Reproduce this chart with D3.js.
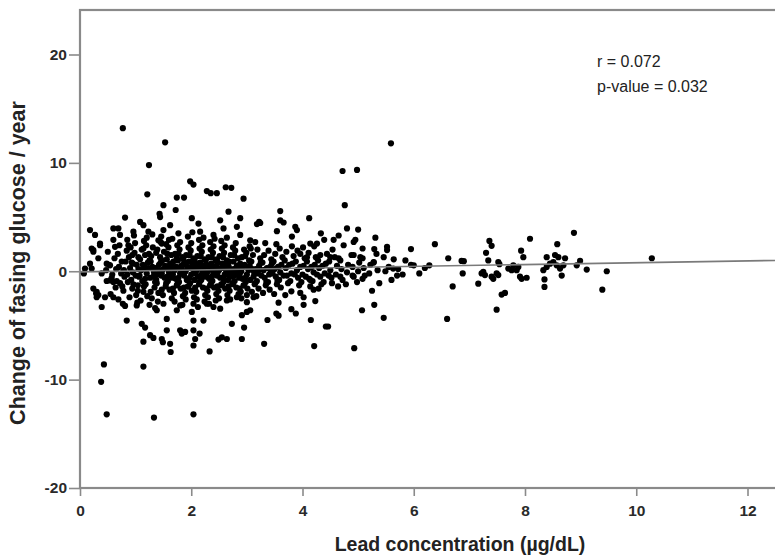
<!DOCTYPE html>
<html><head><meta charset="utf-8">
<script src="https://cdn.jsdelivr.net/npm/d3@7"></script>
<style>body{margin:0;background:#fff}svg{display:block}</style>
</head><body>
<svg id="chart" width="775" height="557"></svg>
<script>
const xTicks = [0, 2, 4, 6, 8, 10, 12];
const yTicks = [-20, -10, 0, 10, 20];
const xTitle = "Lead concentration (µg/dL)";
const yTitle = "Change of fasing glucose / year";
const statLines = ["r = 0.072", "p-value = 0.032"];
const fitLine = [[0, -0.06], [13.7, 1.1]];

const sparsePoints = [
[0.77,13.2],[1.53,11.9],[1.24,9.8],[5.59,11.8],[4.98,9.35],[4.72,9.25],[4.76,6.1],
[1.98,8.3],[2.04,8.0],[2.28,7.4],[2.35,7.2],[2.46,7.2],[2.62,7.75],[2.72,7.7],[2.94,6.7],[1.21,7.1],[1.74,6.8],[1.87,6.8],[1.5,6.1],[1.72,5.65],[2.67,5.5],[2.88,4.9],[3.18,4.35],[0.81,4.95],[1.44,5.0],[1.43,5.3],[1.08,4.55],[1.14,4.25],[2.01,4.9],[2.13,4.4],[2.52,4.7],[2.82,4.1],[0.18,3.8],[0.27,3.35],[0.6,3.95],[0.69,3.95],[0.72,3.35],[0.96,3.65],[1.23,3.65],[1.5,3.8],[1.62,4.25],[1.77,3.5],[2.16,3.65],[2.4,3.35],[2.58,3.95],[2.88,3.35],[3.06,2.85],[3.15,2.7],[0.36,2.4],[0.63,2.25],[0.87,2.4],[1.14,2.1],[1.41,2.85],[1.47,2.55],[0.24,1.95],
[3.6,5.55],[3.22,4.55],[3.24,4.45],[3.6,4.7],[3.66,4.5],[4.12,4.9],[3.87,4.1],[3.9,3.8],[3.54,3.7],[4.8,3.95],[5.0,3.85],[5.31,3.1],[6.38,2.5],[5.95,2.05],[5.52,2.25],[5.52,1.95],[5.29,2.05],[5.08,2.1],[4.92,2.7],[4.95,2.9],[4.65,3.3],[4.56,2.9],[4.33,3.5],[4.39,2.9],[4.14,2.55],[4.26,2.55],[3.81,3.2],[4.92,1.5],[5.04,1.3],[5.28,0.85],[5.46,1.3],[5.64,1.1],[5.85,1.0],[6.62,1.2],[4.65,1.2],[4.5,1.3],[4.32,1.5],[4.08,1.3],[3.96,1.6],
[0.43,-8.6],[0.38,-10.2],[1.14,-8.8],[0.48,-13.2],[1.33,-13.5],[2.04,-13.2],[3.31,-6.7],[4.21,-6.9],[4.93,-7.1],[4.42,-5.1],[4.46,-5.1],[5.46,-4.3],[6.6,-4.4],[5.07,-3.6],[5.29,-3.1],[5.25,-1.8],[4.15,-4.5],[3.37,-4.5],[3.53,-3.9],[3.57,-4.1],[3.8,-3.5],[3.88,-3.9],[4.02,-3.1],[4.23,-2.75],[3.57,-2.9],[4.53,-1.1],[4.68,-0.5],[4.9,-0.4],[5.08,-0.7],[4.14,-0.8],[3.8,-1.85],[3.96,-2.0],[4.2,-1.7],[4.29,-1.6],[4.02,-2.4],[4.47,-0.4],[5.49,0.0],[5.7,-0.4],[6.0,0.55],[6.28,0.55],[5.28,0.8],[5.63,0.25],
[0.24,-1.6],[0.29,-2.05],[0.39,-3.3],[0.45,-2.4],[0.6,-2.4],[0.77,-3.0],[1.02,-3.15],[0.84,-4.55],[1.11,-4.85],[1.17,-5.2],[1.14,-6.5],[1.26,-5.9],[1.32,-6.15],[1.47,-6.25],[1.49,-6.55],[1.56,-5.45],[1.56,-4.4],[1.62,-6.7],[1.63,-7.45],[1.8,-5.45],[1.83,-5.75],[1.89,-5.6],[2.04,-4.55],[2.22,-4.55],[2.04,-5.45],[2.07,-6.25],[2.04,-6.85],[2.15,-5.75],[2.33,-7.4],[2.49,-6.3],[2.55,-6.1],[2.64,-6.25],[2.73,-4.85],[2.91,-6.25],[2.95,-5.2],[2.91,-4.05],[3.0,-3.75],[3.06,-3.6],[1.38,-3.6],[1.74,-3.6],[1.8,-3.15],[2.01,-3.75],[2.28,-3.0],[2.4,-3.3],[2.52,-3.45],[2.64,-2.7],[2.82,-2.4],[3.0,-2.85],[3.12,-2.4],
[0.21,2.1],[0.24,1.8],[0.09,0.25],[0.07,-0.2],[0.36,2.55],[0.48,0.7],[0.54,0.55],[0.33,1.2],[0.39,-0.2],[0.3,-1.9],[0.33,-2.2],[0.18,0.7],[0.21,0.25],[0.54,-0.85],[0.6,-1.0],[0.3,-2.4],
[8.88,3.55],[8.09,3.0],[7.36,2.8],[7.4,2.35],[8.58,2.5],[7.93,1.9],[7.3,1.7],[6.86,0.95],[6.9,0.93],[10.28,1.2],[7.34,1.0],[7.52,0.85],[7.54,0.65],[7.97,1.3],[8.39,1.3],[8.54,1.5],[8.6,1.3],[8.72,1.2],[8.99,0.95],[8.93,0.55],[9.11,0.15],[9.47,0.0],[9.39,-1.7],[8.35,-1.45],[8.35,-0.75],[8.33,0.1],[8.39,0.4],[8.45,0.7],[8.51,0.85],[8.57,0.55],[8.63,0.25],[8.66,-0.4],[8.69,0.55],[7.88,0.4],[7.85,0.1],[7.91,-0.5],[8.03,-0.6],[7.94,-0.7],[7.7,0.25],[7.76,0.1],[7.79,0.55],[7.22,-0.2],[7.28,-0.35],[7.25,-0.05],[7.4,-0.5],[7.49,-0.2],[7.52,-0.35],[7.43,-0.7],[7.16,-1.15],[6.88,-0.2],[6.7,-1.4],[7.49,-3.55],[7.58,-2.15],[7.64,-2.0]
];

const densePoints = [
[0.48,-0.9],[0.52,0.6],[0.5,1.8],[0.55,-2.1],[0.47,0.1],
[0.58,-0.3],[0.62,1.2],[0.64,-1.5],[0.6,2.9],[0.57,-0.6],
[0.7,0.4],[0.72,-1.1],[0.68,1.6],[0.74,-0.2],[0.71,2.4],[0.69,-2.6],
[0.8,-0.5],[0.82,0.9],[0.78,-1.8],[0.84,1.9],[0.79,0.1],[0.81,-3.2],[0.85,2.9],
[0.9,0.3],[0.92,-0.8],[0.88,1.3],[0.94,-1.6],[0.91,2.2],[0.89,-2.4],[0.93,0.8],[0.95,-0.1],
[1.0,-0.4],[1.02,0.6],[0.98,1.7],[1.04,-1.3],[1.01,-2.2],[0.99,2.6],[1.05,0.2],[1.03,-2.9],[0.97,3.3],
[1.1,0.1],[1.12,-0.9],[1.08,1.1],[1.14,-1.9],[1.11,2.0],[1.09,-2.7],[1.13,0.6],[1.07,-0.4],[1.15,2.8],
[1.2,-0.2],[1.22,0.8],[1.18,-1.2],[1.24,1.6],[1.21,-2.3],[1.19,2.4],[1.23,0.3],[1.17,-0.7],[1.25,-3.1],[1.2,3.1],
[1.3,0.4],[1.32,-0.5],[1.28,1.4],[1.34,-1.5],[1.31,2.2],[1.29,-2.5],[1.33,-0.1],[1.27,0.9],[1.35,-3.4],[1.3,3.4],
[1.4,-0.3],[1.42,0.6],[1.38,-1.1],[1.44,1.3],[1.41,-2.0],[1.39,2.0],[1.43,0.1],[1.37,-0.8],[1.45,2.7],[1.4,-2.8],
[1.5,0.2],[1.52,-0.6],[1.48,1.0],[1.54,-1.4],[1.51,1.8],[1.49,-2.2],[1.53,0.5],[1.47,-0.2],[1.55,2.5],[1.5,-3.0],[1.46,3.2],
[1.6,-0.1],[1.62,0.7],[1.58,-0.9],[1.64,1.5],[1.61,-1.7],[1.59,2.2],[1.63,0.3],[1.57,-0.5],[1.65,-2.5],[1.6,2.9],[1.56,1.1],
[1.7,0.1],[1.72,-0.7],[1.68,0.9],[1.74,-1.3],[1.71,1.6],[1.69,-2.0],[1.73,0.4],[1.67,-0.3],[1.75,2.4],[1.7,-2.8],[1.66,3.0],[1.74,1.2],
[1.8,-0.2],[1.82,0.5],[1.78,-1.0],[1.84,1.3],[1.81,-1.6],[1.79,2.0],[1.83,0.2],[1.77,-0.6],[1.85,-2.3],[1.8,2.7],[1.76,1.0],[1.84,-3.1],
[1.9,0.0],[1.92,-0.8],[1.88,0.8],[1.94,-1.4],[1.91,1.5],[1.89,-2.0],[1.93,0.4],[1.87,-0.4],[1.95,2.2],[1.9,-2.6],[1.86,1.1],[1.94,3.2],
[2.0,-0.3],[2.02,0.6],[1.98,-1.1],[2.04,1.2],[2.01,-1.8],[1.99,1.9],[2.03,0.2],[1.97,-0.6],[2.05,-2.4],[2.0,2.6],[1.96,0.9],[2.04,-3.0],[2.02,3.6],
[2.1,0.1],[2.12,-0.5],[2.08,0.7],[2.14,-1.2],[2.11,1.4],[2.09,-1.9],[2.13,0.3],[2.07,-0.2],[2.15,2.1],[2.1,-2.6],[2.06,1.0],[2.14,2.9],[2.12,-3.3],
[2.2,-0.1],[2.22,0.5],[2.18,-0.8],[2.24,1.1],[2.21,-1.5],[2.19,1.8],[2.23,0.2],[2.17,-0.4],[2.25,-2.2],[2.2,2.4],[2.16,0.8],[2.24,-2.8],[2.22,3.1],
[2.3,0.0],[2.32,-0.7],[2.28,0.6],[2.34,-1.3],[2.31,1.3],[2.29,-1.8],[2.33,0.3],[2.27,-0.3],[2.35,2.0],[2.3,-2.4],[2.26,1.0],[2.34,2.7],[2.32,-3.0],
[2.4,-0.2],[2.42,0.4],[2.38,-0.9],[2.44,1.0],[2.41,-1.5],[2.39,1.7],[2.43,0.1],[2.37,-0.5],[2.45,-2.1],[2.4,2.3],[2.36,0.7],[2.44,-2.7],[2.42,3.0],
[2.5,0.1],[2.52,-0.6],[2.48,0.8],[2.54,-1.2],[2.51,1.4],[2.49,-1.8],[2.53,0.3],[2.47,-0.2],[2.55,2.1],[2.5,-2.5],[2.46,1.1],[2.54,2.8],
[2.6,-0.3],[2.62,0.4],[2.58,-1.0],[2.64,1.0],[2.61,-1.6],[2.59,1.7],[2.63,0.0],[2.57,-0.6],[2.65,-2.2],[2.6,2.4],[2.56,0.7],[2.64,3.1],
[2.7,0.2],[2.72,-0.5],[2.68,0.9],[2.74,-1.1],[2.71,1.5],[2.69,-1.8],[2.73,-0.1],[2.67,0.5],[2.75,2.2],[2.7,-2.6],[2.66,-0.8],
[2.8,-0.2],[2.82,0.5],[2.78,-0.9],[2.84,1.2],[2.81,-1.5],[2.79,1.9],[2.83,0.1],[2.77,-0.4],[2.85,-2.1],[2.8,2.6],[2.76,0.9],
[2.9,0.0],[2.92,-0.7],[2.88,0.7],[2.94,-1.3],[2.91,1.3],[2.89,-1.9],[2.93,0.4],[2.87,-0.3],[2.95,2.0],[2.9,-2.5],
[3.0,-0.3],[3.02,0.4],[2.98,-1.0],[3.04,1.0],[3.01,-1.6],[2.99,1.7],[3.03,0.1],[2.97,-0.6],[3.05,2.3],[3.0,-2.2],
[3.1,0.2],[3.12,-0.5],[3.08,0.9],[3.14,-1.2],[3.11,1.5],[3.09,-1.9],[3.13,-0.1],[3.07,2.1],
[3.2,-0.2],[3.22,0.5],[3.18,-0.9],[3.24,1.2],[3.21,-1.6],[3.19,2.0],[3.23,0.2],[3.17,-2.3],
[3.3,0.1],[3.32,-0.6],[3.28,0.8],[3.34,-1.3],[3.31,1.5],[3.29,-2.0],[3.33,2.6],
[3.4,-0.3],[3.42,0.4],[3.38,-1.0],[3.44,1.1],[3.41,-1.7],[3.39,1.9],[3.43,0.0],
[3.5,0.2],[3.52,-0.5],[3.48,0.9],[3.54,-1.2],[3.51,1.6],[3.49,-2.1],[3.53,2.5],
[3.6,-0.1],[3.62,0.6],[3.58,-0.8],[3.64,1.3],[3.61,-1.5],[3.59,2.1],
[3.7,0.3],[3.72,-0.4],[3.68,1.0],[3.74,-1.1],[3.71,1.8],[3.69,-2.2],
[3.8,-0.2],[3.82,0.7],[3.78,-0.9],[3.84,1.4],[3.81,2.3],
[3.9,0.1],[3.92,-0.6],[3.88,0.9],[3.94,-1.3],[3.91,1.9],
[4.0,-0.3],[4.02,0.5],[3.98,-1.0],[4.04,1.2],[4.01,2.2],
[4.1,0.2],[4.12,-0.7],[4.08,0.9],[4.14,-1.4],[4.11,1.7],
[4.2,-0.1],[4.22,0.6],[4.18,-0.9],[4.24,1.3],[4.21,2.3],
[4.3,0.3],[4.32,-0.5],[4.28,1.0],[4.34,-1.2],
[4.4,-0.2],[4.42,0.7],[4.38,-1.0],[4.44,1.6],
[4.5,0.1],[4.52,-0.6],[4.48,0.9],[4.54,2.0],
[4.6,-0.3],[4.62,0.5],[4.58,1.3],[4.64,-1.4],
[4.7,0.2],[4.72,-0.8],[4.68,1.0],[4.74,2.4],
[4.8,-0.1],[4.82,0.6],[4.78,-1.2],
[4.9,0.4],[4.92,-0.5],[4.88,1.5],
[5.0,0.0],[5.02,0.8],[4.98,-1.0],
[5.1,0.3],[5.12,-0.4],[5.08,1.2],
[5.2,-0.2],[5.22,0.6],
[5.35,0.1],[5.38,-1.1],[5.33,1.6],
[5.55,0.4],[5.6,-0.8],
[5.72,0.2],[5.8,-0.3],
[5.95,0.6],[6.1,-0.2],[6.2,0.3]
];

const coreExtraPoints = [
[0.95,0.7],[0.96,-1.2],[0.94,1.5],[1.06,-0.5],[1.05,1.3],[1.04,-1.8],[1.16,0.4],[1.15,-1.4],[1.17,1.5],[1.26,-0.6],[1.25,1.0],[1.27,-1.9],
[1.36,0.3],[1.35,-1.0],[1.37,1.7],[1.46,-0.4],[1.45,0.8],[1.47,-1.7],[1.56,0.4],[1.55,-1.1],[1.57,1.6],[1.66,-0.6],[1.65,0.6],[1.67,-1.6],
[1.76,0.3],[1.75,-1.2],[1.77,1.6],[1.86,-0.2],[1.85,0.6],[1.87,-1.5],[1.96,0.3],[1.95,-1.4],[1.97,1.5],[2.06,-0.8],[2.05,0.4],[2.07,-1.5],
[2.16,0.5],[2.15,-1.0],[2.17,1.4],[2.26,-0.5],[2.25,0.3],[2.27,-1.6],[2.36,0.2],[2.35,-1.2],[2.37,1.3],[2.46,-0.4],[2.45,0.5],[2.47,-1.4],
[2.56,0.3],[2.55,-1.3],[2.57,1.3],[2.66,-0.3],[2.65,0.6],[2.67,-1.4],[2.76,0.2],[2.75,-1.2],[2.77,1.5],[2.86,-0.6],[2.85,0.4],[2.87,-1.6],
[2.96,0.6],[2.95,-1.3],[2.97,1.4],[3.06,-0.8],[3.05,0.5],[3.16,0.2],[3.15,-1.1],[3.26,-0.4],[3.25,0.8],[3.36,0.3],[3.35,-1.0],[3.46,-0.2],
[3.45,0.7],[3.56,0.4],[3.55,-0.9],[3.66,-0.4],[3.76,0.6],[3.86,-0.3],[3.96,0.4],[4.06,-0.5],[4.16,0.4],[4.26,-0.3],[4.36,0.5],
[0.65,0.2],[0.75,0.9],[0.85,-0.3],[0.66,-0.9],[0.76,-1.4],[0.86,-1.0]
];

const allPoints = sparsePoints.concat(densePoints, coreExtraPoints);

const svg = d3.select("#chart");
const plotLeft = 80, plotTop = 10, plotBottom = 488;
const x = d3.scaleLinear().domain([0, 12]).range([plotLeft, 747.5]);
const y = d3.scaleLinear().domain([-20, 20]).range([plotBottom, 54.5]);
const frameColor = "#8a8a8a";
const font = "'Liberation Sans', Arial, Helvetica, sans-serif";

svg.append("rect").attr("x", plotLeft).attr("y", plotTop).attr("width", 900).attr("height", plotBottom - plotTop)
  .attr("fill", "none").attr("stroke", frameColor).attr("stroke-width", 2.2);

const xAxis = svg.append("g").attr("transform", `translate(0,${plotBottom})`)
  .call(d3.axisBottom(x).tickValues(xTicks).tickSize(8).tickPadding(9).tickFormat(d => String(d)));
const yAxis = svg.append("g").attr("transform", `translate(${plotLeft},0)`)
  .call(d3.axisLeft(y).tickValues(yTicks).tickSize(11).tickPadding(2).tickFormat(d => String(d)));
[xAxis, yAxis].forEach(g => {
  g.select(".domain").remove();
  g.selectAll(".tick line").attr("stroke", frameColor).attr("stroke-width", 1.6);
  g.selectAll(".tick text").attr("fill", "#2a2a2a").style("font-family", font)
    .style("font-size", "15.5px").style("font-weight", "bold");
});

svg.append("g").selectAll("circle").data(allPoints).join("circle")
  .attr("cx", d => x(d[0])).attr("cy", d => y(d[1])).attr("r", 3.1).attr("fill", "#000");

svg.append("line")
  .attr("x1", x(fitLine[0][0])).attr("y1", y(fitLine[0][1]))
  .attr("x2", x(fitLine[1][0])).attr("y2", y(fitLine[1][1]))
  .attr("stroke", "#7a7a7a").attr("stroke-width", 1.6);

svg.append("g").selectAll("text").data(statLines).join("text")
  .attr("x", 597).attr("y", (d, i) => 67 + i * 25).text(d => d)
  .attr("fill", "#222").style("font-family", font).style("font-size", "16px");

svg.append("text").attr("x", 460).attr("y", 551).attr("text-anchor", "middle").text(xTitle)
  .attr("fill", "#222").style("font-family", font).style("font-size", "19.5px").style("font-weight", "bold");
svg.append("text").attr("transform", "translate(25,263) rotate(-90)").attr("text-anchor", "middle").text(yTitle)
  .attr("fill", "#222").style("font-family", font).style("font-size", "21.5px").style("font-weight", "bold");
</script>
</body></html>
